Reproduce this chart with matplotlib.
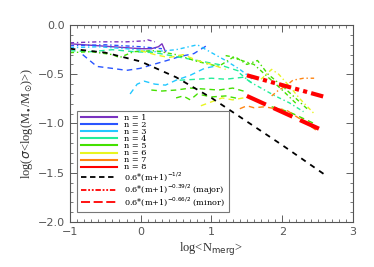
import matplotlib
matplotlib.use('Agg')
import matplotlib.pyplot as plt
from matplotlib.lines import Line2D
from matplotlib.ticker import MultipleLocator

# colours for n = 1..8
n_labels = ['n = 1', 'n = 2', 'n = 3', 'n = 4', 'n = 5', 'n = 6', 'n = 7', 'n = 8']
n_colors = ['#7a33c0', '#2a55ff', '#22c8ff', '#22ee99', '#44e000', '#e8f520', '#ff8410', '#ff0000']

# simulated scatter curves (n index, linestyle, x, y)
s1a_x = [-1, -0.8, -0.6, -0.4, -0.2, 0.0, 0.15, 0.25, 0.3, 0.35]
s1a_y = [-0.19, -0.2, -0.21, -0.22, -0.23, -0.24, -0.24, -0.22, -0.19, -0.27]
s1b_x = [-1, -0.6, -0.2, 0.05, 0.1, 0.2]
s1b_y = [-0.18, -0.17, -0.17, -0.16, -0.15, -0.17]
s2a_x = [-1, -0.5, 0.0, 0.3]
s2a_y = [-0.21, -0.2, -0.22, -0.24]
s2b_x = [-0.82, -0.62, -0.4, -0.2, -0.01, 0.13, 0.37, 0.55, 0.75, 0.93]
s2b_y = [-0.3, -0.42, -0.44, -0.46, -0.44, -0.41, -0.36, -0.32, -0.29, -0.21]
s3a_x = [-1, -0.6, -0.2, 0.2, 0.5, 0.8, 1.0, 1.2, 1.4, 1.6]
s3a_y = [-0.23, -0.22, -0.24, -0.27, -0.25, -0.2, -0.28, -0.36, -0.45, -0.56]
s3b_x = [-0.15, -0.05, 0.05, 0.2, 0.35, 0.5, 0.7, 0.9, 1.1]
s3b_y = [-0.7, -0.6, -0.57, -0.6, -0.61, -0.56, -0.51, -0.44, -0.41]
s4a_x = [-1, -0.7, -0.4, -0.1, 0.2, 0.5, 0.8, 1.1, 1.4]
s4a_y = [-0.26, -0.27, -0.25, -0.27, -0.28, -0.32, -0.36, -0.4, -0.47]
s4b_x = [0.55, 0.8, 1.0, 1.2, 1.45, 1.6]
s4b_y = [-0.56, -0.55, -0.54, -0.55, -0.53, -0.6]
s4c_x = [1.4, 1.55, 1.7, 1.9, 2.1, 2.3]
s4c_y = [-0.49, -0.58, -0.64, -0.72, -0.79, -0.88]
s5a_x = [0.15, 0.3, 0.5, 0.7, 0.9, 1.1, 1.3, 1.5]
s5a_y = [-0.66, -0.67, -0.66, -0.64, -0.65, -0.66, -0.64, -0.68]
s5b_x = [0.5, 0.6, 0.7, 0.8, 1.0, 1.2, 1.4]
s5b_y = [-0.74, -0.72, -0.76, -0.7, -0.73, -0.72, -0.75]
s5c_x = [-1, -0.7, -0.4, -0.3, -0.1, 0.2, 0.5, 0.8, 1.1, 1.3, 1.6, 1.8, 2.0, 2.2]
s5c_y = [-0.28, -0.27, -0.3, -0.33, -0.27, -0.26, -0.3, -0.37, -0.42, -0.33, -0.4, -0.53, -0.66, -0.8]
s5d_x = [1.2, 1.35, 1.5, 1.65, 1.8, 2.0, 2.2, 2.35]
s5d_y = [-0.31, -0.33, -0.4, -0.36, -0.5, -0.62, -0.75, -0.85]
s5e_x = [1.85, 2.0, 2.15, 2.3, 2.45]
s5e_y = [-0.83, -0.86, -0.9, -0.95, -1.0]
s6a_x = [0.0, 0.2, 0.4, 0.6, 0.8, 1.0, 1.2]
s6a_y = [-0.26, -0.3, -0.33, -0.3, -0.36, -0.4, -0.45]
s6b_x = [0.85, 1.0, 1.15, 1.3, 1.45]
s6b_y = [-0.82, -0.78, -0.74, -0.76, -0.74]
s6c_x = [1.7, 1.85, 1.95, 2.1, 2.25, 2.45]
s6c_y = [-0.55, -0.45, -0.5, -0.62, -0.75, -0.9]
s7a_x = [1.4, 1.5, 1.6, 1.75, 1.9, 2.05, 2.2, 2.35, 2.5]
s7a_y = [-0.85, -0.82, -0.84, -0.83, -0.85, -0.86, -0.93, -1.0, -1.08]
s7b_x = [1.85, 1.95, 2.05, 2.15, 2.3, 2.45]
s7b_y = [-0.72, -0.66, -0.62, -0.56, -0.54, -0.54]

series = [
    (0, 'solid', s1a_x, s1a_y), (0, 'dashdot', s1b_x, s1b_y),
    (1, 'dashdot', s2a_x, s2a_y), (1, 'dashed', s2b_x, s2b_y),
    (2, 'dashdot', s3a_x, s3a_y), (2, 'dashed', s3b_x, s3b_y),
    (3, 'dashed', s4a_x, s4a_y), (3, 'dashed', s4b_x, s4b_y), (3, 'dashdot', s4c_x, s4c_y),
    (4, 'dashed', s5a_x, s5a_y), (4, 'dashed', s5b_x, s5b_y), (4, 'dashdot', s5c_x, s5c_y),
    (4, 'dashdot', s5d_x, s5d_y), (4, 'dashed', s5e_x, s5e_y),
    (5, 'dashed', s6a_x, s6a_y), (5, 'dashed', s6b_x, s6b_y), (5, 'dashdot', s6c_x, s6c_y),
    (6, 'dashed', s7a_x, s7a_y), (6, 'dashdot', s7b_x, s7b_y),
]

# reference power laws
fit_x = [-1, -0.5, 0.0, 0.5, 1.0, 1.5, 2.0, 2.6]
fit_y = [-0.24, -0.28, -0.37, -0.53, -0.74, -0.98, -1.22, -1.52]
major_x = [1.5, 2.6]
major_y = [-0.51, -0.73]
minor_x = [1.5, 2.6]
minor_y = [-0.72, -1.08]

styles = {'solid': '-', 'dashed': (0, (4, 3)), 'dashdot': (0, (3, 2, 1, 2))}

fig = plt.figure(figsize=(3.74, 2.67), dpi=100)
ax = fig.add_axes([0.187, 0.169, 0.757, 0.737])

for i, ls, x, y in series:
    ax.plot(x, y, color=n_colors[i], ls=styles[ls], lw=1.0)

ax.plot(fit_x, fit_y, color='black', lw=1.3, ls=(0, (3, 3)))
ax.plot(major_x, major_y, color='red', lw=3, ls=(0, (3, 1, 1, 1, 1, 1)))
ax.plot(minor_x, minor_y, color='red', lw=3, ls=(0, (5, 2)))

ax.set_xlim(-1, 3)
ax.set_ylim(-2.0, 0.0)
ax.set_yticks([0.0, -0.5, -1.0, -1.5, -2.0])
ax.set_yticklabels(['0.0', '\u22120.5', '\u22121.0', '\u22121.5', '\u22122.0'])
ax.set_xticks([-1, 0, 1, 2, 3])
ax.set_xticklabels(['\u22121', '0', '1', '2', '3'])
ax.xaxis.set_minor_locator(MultipleLocator(0.1))
ax.yaxis.set_minor_locator(MultipleLocator(0.1))
ax.tick_params(which='both', direction='in', top=True, right=True, labelsize=8, colors='#444444', labelcolor='#555555')
ax.tick_params(which='major', length=5, width=0.6)
ax.tick_params(which='minor', length=2.5, width=0.5)
for sp in ax.spines.values():
    sp.set_color('#555555')
    sp.set_linewidth(0.8)

ax.set_xlabel(r'log<N$_{\mathrm{merg}}$>', family='Liberation Serif', fontsize=9, color='#333333', labelpad=2)
ax.set_ylabel(r'log($\sigma$<log(M$_{\bullet}$/M$_{\odot}$)>)', family='Liberation Serif', fontsize=9,
              color='#333333', labelpad=2)

handles = [Line2D([], [], color=c, lw=1.5) for c in n_colors]
handles += [Line2D([], [], color='black', lw=1.3, ls=(0, (3, 2))),
            Line2D([], [], color='red', lw=1.3, ls=(0, (3, 1, 1, 1, 1, 1))),
            Line2D([], [], color='red', lw=1.3, ls=(0, (5, 2)))]
labels = n_labels + [r'0.6$*$(m+1)$^{-1/2}$', r'0.6$*$(m+1)$^{-0.39/2}$ (major)', r'0.6$*$(m+1)$^{-0.66/2}$ (minor)']
leg = ax.legend(handles, labels, loc='lower left', bbox_to_anchor=(0.025, 0.05),
                handlelength=4.4, handletextpad=0.9, labelspacing=-0.12, borderpad=0.45,
                borderaxespad=0.0, fancybox=False, framealpha=1, edgecolor='#777777',
                prop={'family': 'serif', 'size': 5.9})
leg.get_frame().set_linewidth(0.8)

fig.savefig('out.png', dpi=100)
